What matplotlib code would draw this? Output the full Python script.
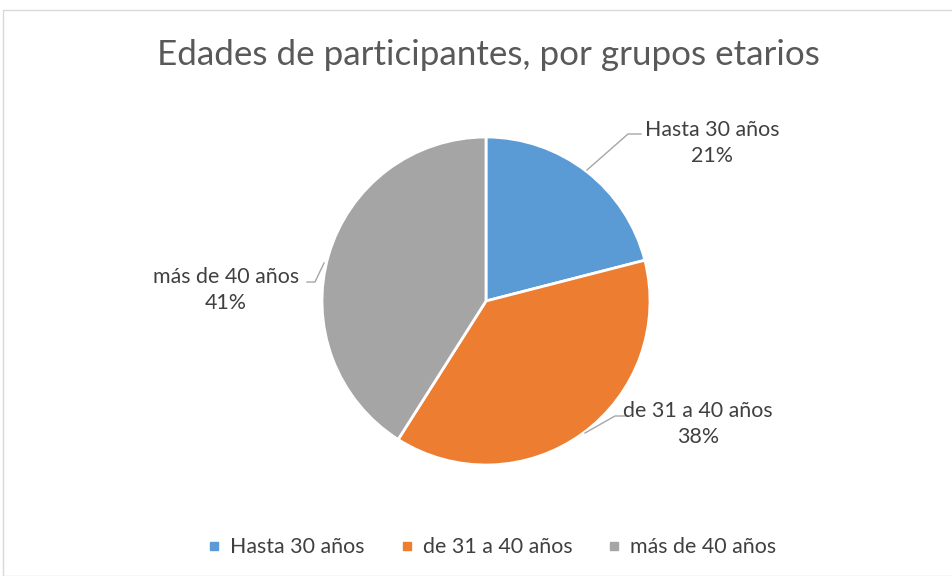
import matplotlib.pyplot as plt
from matplotlib.lines import Line2D
from matplotlib.patches import Rectangle

# data
categorias = ["Hasta 30 años", "de 31 a 40 años", "más de 40 años"]
porcentajes = [21, 38, 41]
colores = ["#5B9BD5", "#ED7D31", "#A5A5A5"]
titulo = "Edades de participantes, por grupos etarios"

W, H = 953, 576
fig = plt.figure(figsize=(W / 100, H / 100), dpi=100)
ax = fig.add_axes([0, 0, 1, 1])
ax.axis("off")

# chart border
ax.add_patch(Rectangle((3.5, 0), W, H - 9.5, fill=False, edgecolor="#D9D9D9", lw=1))

cx, cy, r = 486, H - 301, 164
ax.pie(porcentajes, colors=colores, startangle=90, counterclock=False,
       center=(cx, cy), radius=r, wedgeprops=dict(edgecolor="white", linewidth=2))
ax.set_xlim(0, W)
ax.set_ylim(0, H)
ax.set_aspect("equal")

ax.text(cx + 2, H - 55, titulo, ha="center", va="center", fontsize=25.2,
        color="#595959", family="Lato")

# data labels (text centre, leader line points) in pixel coords from top
pos_etiquetas = [(712, 143), (698, 424), (226, 290)]
lineas = [[(587, 170), (628, 134), (641, 134)],
          [(585, 433), (615, 416), (625, 416)],
          [(307, 282), (315, 282), (324, 263)]]
for cat, p, (x, y), ln in zip(categorias, porcentajes, pos_etiquetas, lineas):
    ax.text(x, H - y, f"{cat}\n{p}%", ha="center", va="center", fontsize=15.4,
            color="#404040", family="Lato", linespacing=1.4)
    ax.plot([q[0] for q in ln], [H - q[1] for q in ln], color="#A6A6A6", lw=1)

handles = [Line2D([], [], marker="s", ls="", color=c, markersize=6) for c in colores]
ax.legend(handles, categorias, loc="center", bbox_to_anchor=(490 / W, 1 - 547 / H),
          ncol=3, frameon=False, handletextpad=0.25, columnspacing=1.45,
          handlelength=1.0, prop=dict(family="Lato", size=15.4), labelcolor="#404040")

fig.savefig("out.png", dpi=100)
